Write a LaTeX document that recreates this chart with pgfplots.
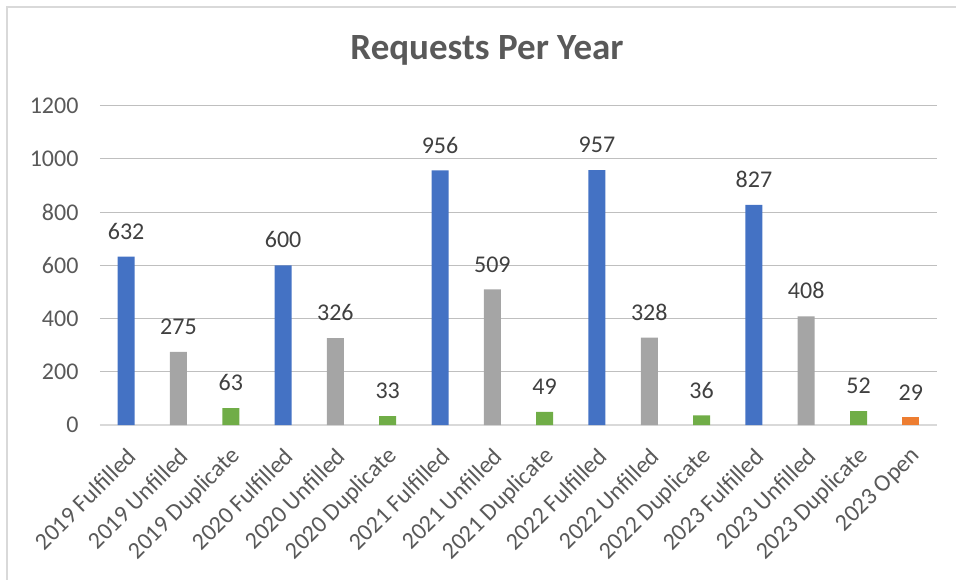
\documentclass[border=0pt]{standalone}
\usepackage{pgfplots}
\pgfplotsset{compat=1.18}
\usepackage{fontspec}
\setmainfont{Carlito}
\definecolor{cblue}{HTML}{4472C4}
\definecolor{cgray}{HTML}{A5A5A5}
\definecolor{cgreen}{HTML}{70AD47}
\definecolor{corange}{HTML}{ED7D31}
\definecolor{txt}{HTML}{595959}
\definecolor{lbl}{HTML}{404040}
\definecolor{grid}{HTML}{D9D9D9}
\begin{document}
\begin{tikzpicture}
\useasboundingbox (-100pt,-154pt) rectangle (856pt,425pt);
\draw[grid, line width=1.3pt] (-93pt,-160pt) -- (-93pt,418pt) -- (860pt,418pt);
\node[font=\fontsize{37}{40}\selectfont\bfseries, text=txt] at (387pt,375pt) {Requests Per Year};
\begin{axis}[
  at={(0pt,0pt)}, anchor=south west,
  scale only axis, width=837pt, height=319.5pt,
  ybar, bar width=17pt,
  xmin=-0.5, xmax=15.5, ymin=0, ymax=1200,
  ytick={0,200,...,1200},
  xtick={0,...,15},
  xticklabels={2019 Fulfilled,2019 Unfilled,2019 Duplicate,2020 Fulfilled,2020 Unfilled,2020 Duplicate,2021 Fulfilled,2021 Unfilled,2021 Duplicate,2022 Fulfilled,2022 Unfilled,2022 Duplicate,2023 Fulfilled,2023 Unfilled,2023 Duplicate,2023 Open},
  major tick length=0pt,
  axis x line*=bottom, axis y line*=left,
  x axis line style={grid, line width=1.5pt, -},
  y axis line style={draw=none},
  xmajorgrids=false, ymajorgrids=true, grid style={grid, line width=1pt},
  ticklabel style={font=\fontsize{24}{28}\selectfont, text=txt},
  yticklabel style={anchor=east, xshift=-18pt, /pgf/number format/1000 sep={}},
  xticklabel style={xshift=8pt, yshift=-25pt, rotate=45, anchor=east},
  /pgf/number format/assume math mode=true,
  nodes near coords,
  nodes near coords style={font=\fontsize{24}{28}\selectfont, text=lbl, anchor=south, inner sep=0pt, yshift=17pt},
  every axis plot/.append style={bar shift=0pt, draw=none},
  clip=false,
]
\addplot[fill=cblue] coordinates {(0,632) (3,600) (6,956) (9,957) (12,827)};
\addplot[fill=cgray] coordinates {(1,275) (4,326) (7,509) (10,328) (13,408)};
\addplot[fill=cgreen] coordinates {(2,63) (5,33) (8,49) (11,36) (14,52)};
\addplot[fill=corange] coordinates {(15,29)};
\end{axis}
\end{tikzpicture}
\end{document}
